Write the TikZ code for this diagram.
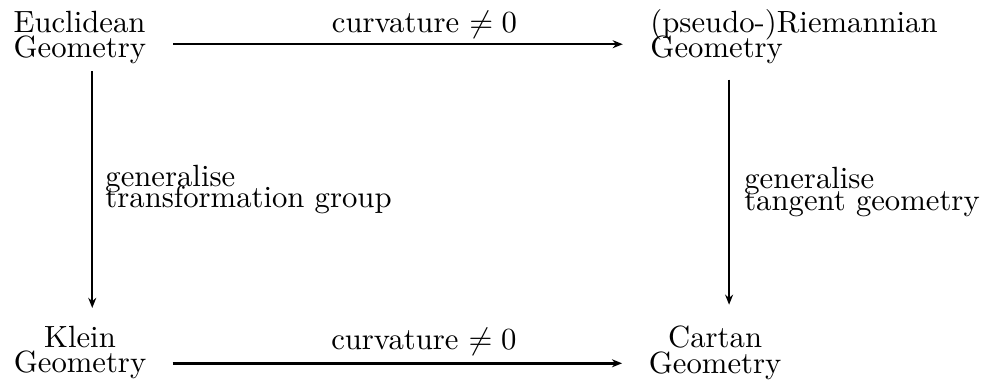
\documentclass[tikz,border=0pt]{standalone}
\usepackage{amsmath,amssymb}
\usepackage{tikz}
\usetikzlibrary{positioning, arrows.meta, calc}
\tikzset{
  geo/.style={inner sep=0pt, align=left},
  arr/.style={-{Stealth[length=3.3pt, width=2.6pt]}, line width=0.8pt},
  lab/.style={inner sep=0pt, align=left},
}

\begin{document}
\begin{tikzpicture}
    \useasboundingbox (0,0) rectangle (11.38,-4.385);
    % the four geometries
    \node[geo, anchor=north west] (euc) at (0.149,-0.119) {Euclidean\\[-3.8pt]Geometry};
    \node[geo, anchor=north west] (rie) at (7.44,-0.1) {(pseudo-)Riemannian\\[-3.8pt]Geometry};
    \node[geo, align=center, anchor=north] (kle) at (0.916,-3.726) {Klein\\[-3.8pt]Geometry};
    \node[geo, align=center, anchor=north] (car) at (8.187,-3.729) {Cartan\\[-3.8pt]Geometry};
    % horizontal arrows
    \draw[arr] ($(euc.east)+(0.303,-0.078)$) -- node[lab, pos=0.559, anchor=base, yshift=3.8pt] (tcurv) {curvature $\neq 0$}
      ($(euc.east -| rie.west)+(-0.31,-0.078)$);
    \draw[arr] ($(kle.east)+(0.295,-0.124)$) -- node[lab, pos=0.559, anchor=base, yshift=4.5pt] (bcurv) {curvature $\neq 0$}
      ($(kle.east -| car.west)+(-0.3,-0.124)$);
    % vertical arrows
    \draw[arr] ($(euc.south -| kle.north)+(0.14,-0.08)$) -- node[lab, right=0.137cm] (lgen) {generalise\\[-5pt]transformation group}
      ($(kle.north)+(0.14,0.2)$);
    \draw[arr] ($(rie.south -| car.north)+(0.16,-0.175)$) -- node[lab, right=0.16cm] (rgen) {generalise\\[-5pt]tangent geometry}
      ($(car.north)+(0.16,0.24)$);
\end{tikzpicture}
\end{document}
